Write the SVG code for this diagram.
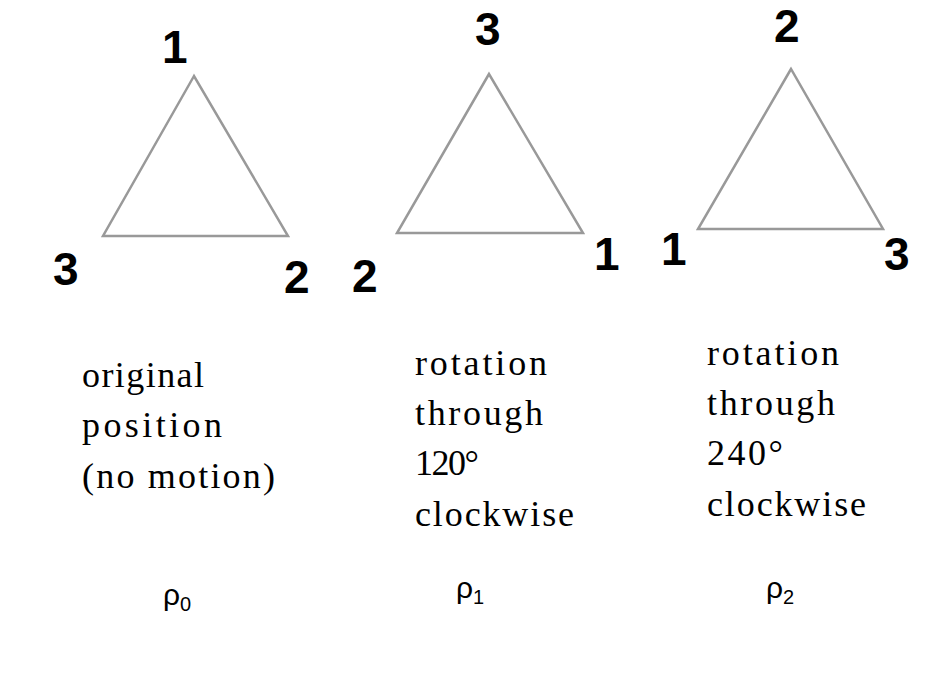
<svg xmlns="http://www.w3.org/2000/svg" width="926" height="694" viewBox="0 0 926 694">
<style>
.tri{fill:none;stroke:#999;stroke-width:2.5}
.n{font-family:"Liberation Sans",Arial,sans-serif;font-weight:bold;font-size:46px;fill:#000}
.d{font-family:"Liberation Serif","Times New Roman",serif;font-size:36px;fill:#000}
.r{font-family:"Liberation Sans",Arial,sans-serif;font-size:30px;fill:#000}
.s{font-size:20px}
</style>
<rect width="926" height="694" fill="#fff"/>
<g id="t0">
<polygon class="tri" points="194,76 103,236 288,236"/>
<text class="n" x="162" y="63">1</text>
<text class="n" x="53" y="285">3</text>
<text class="n" x="284" y="293">2</text>
<text class="d" x="82" y="387" textLength="122" lengthAdjust="spacing">original</text>
<text class="d" x="82" y="437" textLength="140" lengthAdjust="spacing">position</text>
<text class="d" x="82" y="488" textLength="193" lengthAdjust="spacing">(no motion)</text>
<text class="r" x="163" y="605">ρ<tspan class="s" dy="6">0</tspan></text>
</g>
<g id="t1">
<polygon class="tri" points="489,74 397,233 583,233"/>
<text class="n" x="475" y="45">3</text>
<text class="n" x="352" y="292">2</text>
<text class="n" x="594" y="270">1</text>
<text class="d" x="415" y="375" textLength="132" lengthAdjust="spacing">rotation</text>
<text class="d" x="415" y="425" textLength="128" lengthAdjust="spacing">through</text>
<text class="d" x="415" y="475" textLength="64" lengthAdjust="spacing">120°</text>
<text class="d" x="415" y="526" textLength="159" lengthAdjust="spacing">clockwise</text>
<text class="r" x="456" y="598">ρ<tspan class="s" dy="6">1</tspan></text>
</g>
<g id="t2">
<polygon class="tri" points="791,69 698,229 883,229"/>
<text class="n" x="774" y="42">2</text>
<text class="n" x="661" y="265">1</text>
<text class="n" x="884" y="270">3</text>
<text class="d" x="707" y="365" textLength="132" lengthAdjust="spacing">rotation</text>
<text class="d" x="707" y="415" textLength="128" lengthAdjust="spacing">through</text>
<text class="d" x="707" y="465" textLength="76" lengthAdjust="spacing">240°</text>
<text class="d" x="707" y="516" textLength="159" lengthAdjust="spacing">clockwise</text>
<text class="r" x="766" y="598">ρ<tspan class="s" dy="6">2</tspan></text>
</g>
<g id="connectors"/>
</svg>
